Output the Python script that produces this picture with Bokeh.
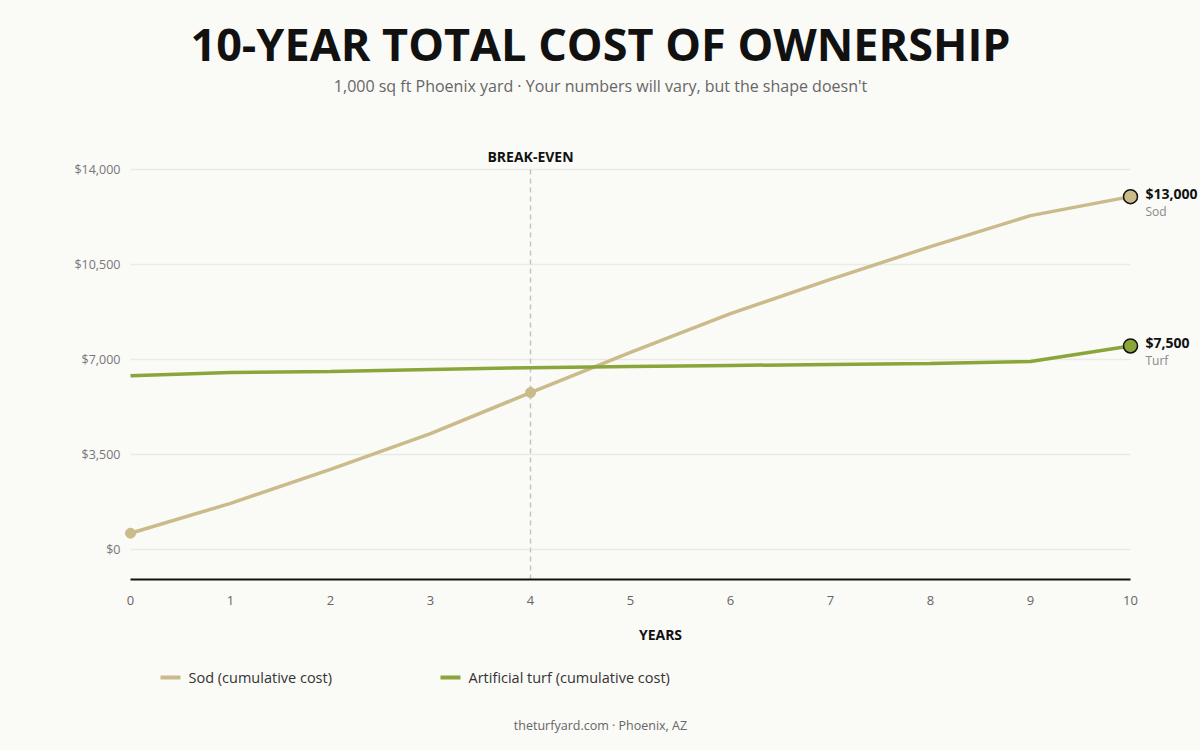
from bokeh.plotting import figure
from bokeh.layouts import column
from bokeh.models import Range1d, Label, FixedTicker, NumeralTickFormatter
from bokeh.embed import file_html
from bokeh.resources import INLINE

# ---- data -------------------------------------------------------------
years = list(range(11))
sod_cost = [600, 1700, 2950, 4270, 5780, 7260, 8690, 9950, 11160, 12300, 13000]
turf_cost = [6400, 6520, 6560, 6630, 6700, 6740, 6780, 6820, 6850, 6930, 7500]
y_ticks = [0, 3500, 7000, 10500, 14000]
break_even_year = 4

title_text = "10-YEAR TOTAL COST OF OWNERSHIP"
subtitle_text = "1,000 sq ft Phoenix yard \u00b7 Your numbers will vary, but the shape doesn't"
footer_text = "theturfyard.com \u00b7 Phoenix, AZ"
series_names = ["Sod (cumulative cost)", "Artificial turf (cumulative cost)"]

# ---- style ------------------------------------------------------------
BG = "#fafaf7"
SOD = "#cbbb8b"
TURF = "#8aa63b"
GRID = "#ebebe6"
FONT = "Open Sans"
W = 1200
LEFT = 120          # width of the y-axis gutter shared by every row


def text_block(height):
    """An axis-free figure used for heading/footer text; x data == page pixels."""
    f = figure(width=W, height=height, output_backend="svg", toolbar_location=None,
               x_range=Range1d(LEFT, W), y_range=Range1d(0, height),
               x_axis_location=None, y_axis_location=None,
               min_border_left=LEFT, min_border_right=0,
               min_border_top=0, min_border_bottom=0)
    f.grid.visible = False
    f.outline_line_color = None
    f.background_fill_color = BG
    f.border_fill_color = BG
    return f


# ---- heading ----------------------------------------------------------
HEAD_H = 110
head = text_block(HEAD_H)
head.add_layout(Label(x=W / 2, y=HEAD_H - 43, text=title_text,
                      text_align="center", text_baseline="middle", text_font=FONT,
                      text_font_style="bold", text_font_size="45px", text_color="#111111"))
head.add_layout(Label(x=W / 2, y=HEAD_H - 85, text=subtitle_text,
                      text_align="center", text_baseline="middle", text_font=FONT,
                      text_font_size="16px", text_color="#666666"))

# ---- main chart -------------------------------------------------------
MAIN_H = 540
p = figure(width=W, height=MAIN_H, output_backend="svg", toolbar_location=None,
           x_range=Range1d(-0.1, 10.7), y_range=Range1d(-1105.3, 15068.4),
           min_border_left=LEFT, min_border_right=0,
           min_border_top=30, min_border_bottom=71)
p.background_fill_color = BG
p.border_fill_color = BG
p.outline_line_color = None
p.xgrid.visible = False
p.ygrid.visible = False

# horizontal gridlines across the year domain
p.segment(x0=years[0], x1=years[-1], y0=y_ticks, y1=y_ticks,
          line_color=GRID, line_width=1.5)

# x axis
xa = p.xaxis[0]
xa.bounds = (years[0], years[-1])
xa.ticker = FixedTicker(ticks=years)
xa.axis_line_color = "#111111"
xa.axis_line_width = 2
xa.major_tick_line_color = None
xa.minor_tick_line_color = None
xa.major_tick_out = 0
xa.major_tick_in = 0
xa.major_label_standoff = 16
xa.major_label_text_color = "#666666"
xa.major_label_text_font = FONT
xa.major_label_text_font_size = "13px"
xa.axis_label = "YEARS"
xa.axis_label_text_font = FONT
xa.axis_label_text_font_style = "bold"
xa.axis_label_text_font_size = "14px"
xa.axis_label_text_color = "#111111"
xa.axis_label_standoff = 17

# y axis
ya = p.yaxis[0]
ya.ticker = FixedTicker(ticks=y_ticks)
ya.formatter = NumeralTickFormatter(format="$0,0")
ya.axis_line_color = None
ya.major_tick_line_color = None
ya.minor_tick_line_color = None
ya.major_tick_out = 0
ya.major_tick_in = 0
ya.major_label_standoff = 0
ya.major_label_text_color = "#777777"
ya.major_label_text_font = FONT
ya.major_label_text_font_size = "12.5px"

# break-even marker
p.segment(x0=break_even_year, x1=break_even_year, y0=p.y_range.start, y1=y_ticks[-1],
          line_color="#c4c4c4", line_width=1.5, line_dash="5 4")
p.add_layout(Label(x=break_even_year, y=y_ticks[-1], y_offset=13, text="BREAK-EVEN",
                   text_align="center", text_baseline="middle", text_font=FONT,
                   text_font_style="bold", text_font_size="14px", text_color="#111111"))

# series
p.line(years, sod_cost, line_color=SOD, line_width=3.5)
p.line(years, turf_cost, line_color=TURF, line_width=3.5)
p.scatter([years[0], years[break_even_year]], [sod_cost[0], sod_cost[break_even_year]],
          size=10, fill_color=SOD, line_color=SOD)
p.scatter([years[-1]], [sod_cost[-1]], size=14, fill_color=SOD,
          line_color="#111111", line_width=1.5)
p.scatter([years[-1]], [turf_cost[-1]], size=14, fill_color=TURF,
          line_color="#111111", line_width=1.5)

# end-of-line value labels
for name, vals in (("Sod", sod_cost), ("Turf", turf_cost)):
    p.add_layout(Label(x=years[-1], y=vals[-1], x_offset=15, y_offset=3,
                       text=f"${vals[-1]:,}", text_align="left", text_baseline="middle",
                       text_font=FONT, text_font_style="bold", text_font_size="14px",
                       text_color="#111111"))
    p.add_layout(Label(x=years[-1], y=vals[-1], x_offset=15, y_offset=-15,
                       text=name, text_align="left", text_baseline="middle",
                       text_font=FONT, text_font_size="12px", text_color="#888888"))

# ---- legend and footer ------------------------------------------------
FOOT_H = 100
foot = text_block(FOOT_H)
key_y = FOOT_H - 27
for x0, colour, label in ((160, SOD, series_names[0]), (440, TURF, series_names[1])):
    foot.segment(x0=x0, x1=x0 + 20, y0=key_y, y1=key_y, line_color=colour, line_width=4)
    foot.add_layout(Label(x=x0 + 28, y=key_y, text=label, text_align="left",
                          text_baseline="middle", text_font=FONT,
                          text_font_size="14.5px", text_color="#333333"))
foot.add_layout(Label(x=W / 2, y=FOOT_H - 75, text=footer_text,
                      text_align="center", text_baseline="middle", text_font=FONT,
                      text_font_size="12.5px", text_color="#666666"))

layout = column(head, p, foot, spacing=0, styles={"background-color": BG})
open("out.html", "w").write(file_html(layout, INLINE))
